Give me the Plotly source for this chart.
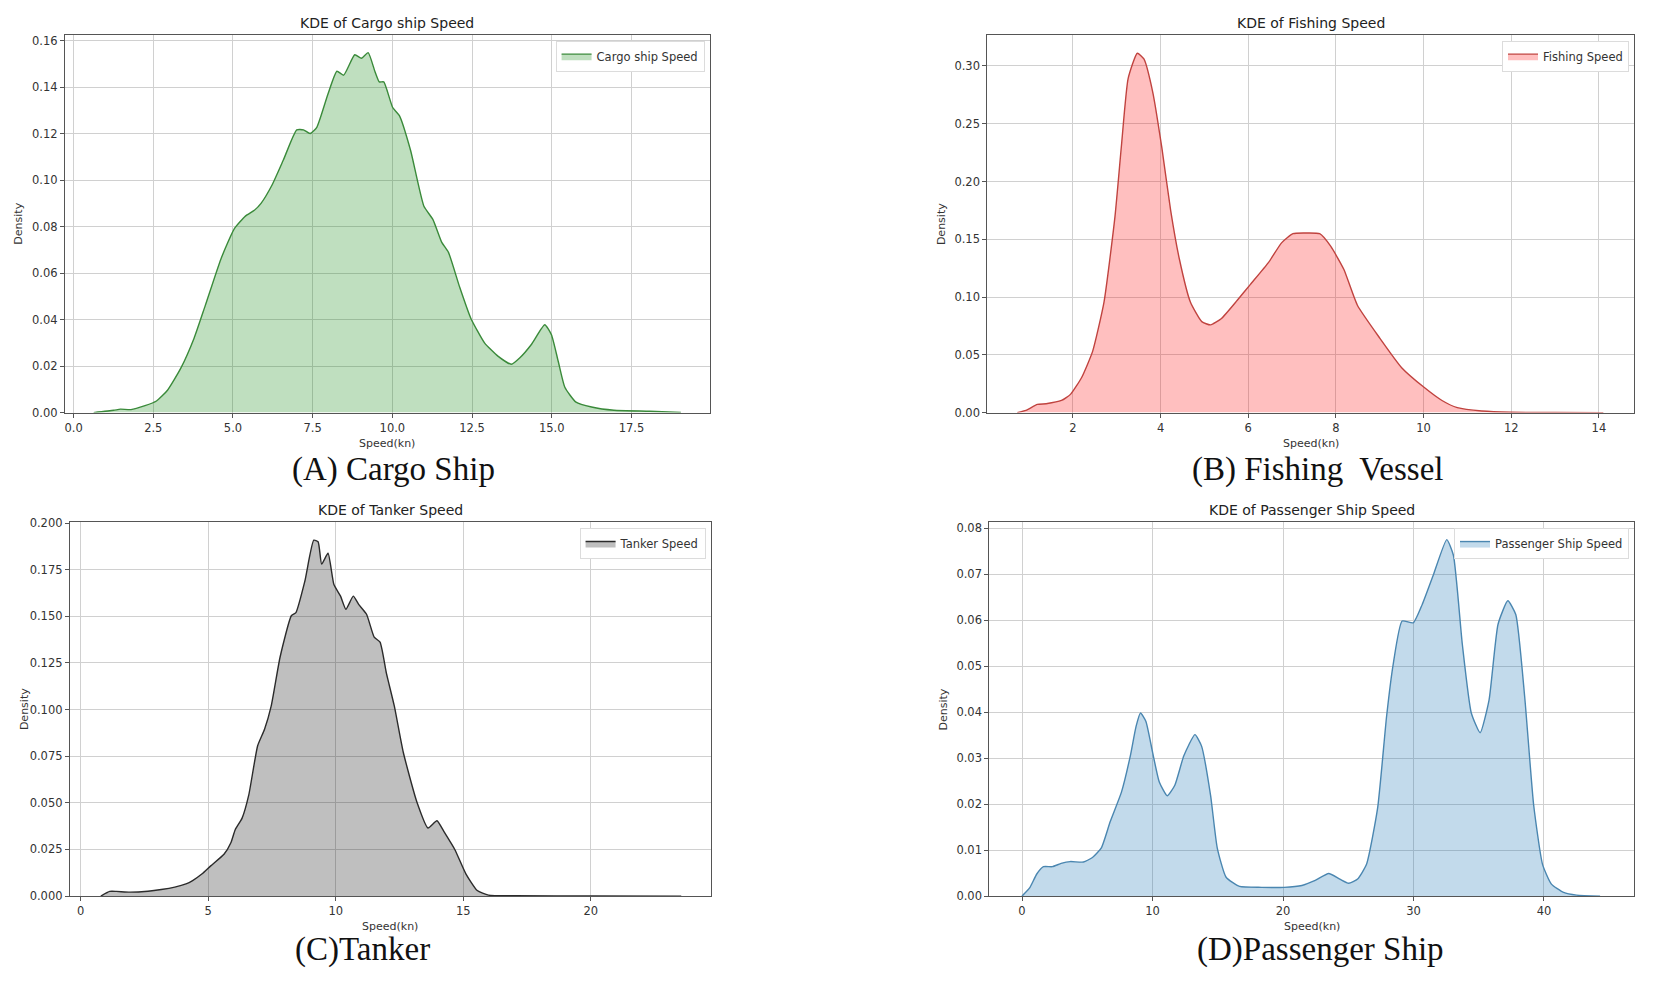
import plotly.graph_objects as go

# KDE curves
cargo_speed = [0.63, 1.26, 1.47, 1.8, 2.24, 2.6, 2.94, 3.36, 3.78, 4.13, 4.62, 5.04, 5.39, 5.67, 5.88,
               6.23, 6.58, 7.0, 7.21, 7.42, 7.63, 7.98, 8.26, 8.47, 8.82, 9.03, 9.24, 9.45, 9.59, 9.73,
               10.01, 10.22, 10.57, 10.99, 11.27, 11.55, 11.76, 12.11, 12.46, 12.89, 13.31, 13.73, 14.0,
               14.36, 14.78, 14.99, 15.2, 15.41, 15.76, 16.25, 16.95, 18.07, 19.05]
cargo_density = [0.0, 0.001, 0.0015, 0.0013, 0.003, 0.005, 0.0095, 0.019, 0.032, 0.046, 0.066, 0.079,
                 0.0845, 0.087, 0.090, 0.098, 0.1086, 0.1216, 0.1216, 0.120, 0.1227, 0.137, 0.1468,
                 0.1451, 0.1539, 0.1524, 0.1548, 0.1468, 0.1422, 0.1422, 0.1312, 0.1277, 0.1128, 0.0887,
                 0.0831, 0.0732, 0.0689, 0.054, 0.0406, 0.030, 0.0243, 0.0208, 0.0236, 0.0293, 0.0378,
                 0.0335, 0.0222, 0.0109, 0.0045, 0.0024, 0.001, 0.0006, 0.0001]

fishing_speed = [0.73, 0.93, 1.19, 1.39, 1.74, 1.95, 2.2, 2.45, 2.71, 2.96, 3.11, 3.26, 3.47, 3.62, 3.82,
                 4.03, 4.23, 4.43, 4.68, 4.94, 5.14, 5.39, 5.75, 6.05, 6.46, 6.76, 7.02, 7.27, 7.63, 7.88,
                 8.18, 8.49, 9.0, 9.5, 10.01, 10.42, 10.77, 11.33, 12.0, 13.0, 14.1]
fishing_density = [0.0, 0.002, 0.0071, 0.0077, 0.0105, 0.016, 0.0304, 0.053, 0.0957, 0.1696, 0.232, 0.289,
                   0.311, 0.306, 0.2776, 0.229, 0.175, 0.1327, 0.0957, 0.0787, 0.0759, 0.0815, 0.0972,
                   0.111, 0.1298, 0.1469, 0.1548, 0.1554, 0.1548, 0.144, 0.124, 0.0929, 0.0645, 0.0389,
                   0.0219, 0.0105, 0.0043, 0.0014, 0.0003, 0.0001, 0.0]

tanker_speed = [0.79, 1.14, 1.4, 1.93, 2.64, 3.16, 3.69, 4.13, 4.39, 4.75, 5.1, 5.62, 5.89, 6.06, 6.33,
                6.59, 6.94, 7.21, 7.47, 7.82, 8.26, 8.44, 8.79, 9.14, 9.31, 9.45, 9.7, 9.93, 10.19, 10.4,
                10.69, 10.9, 11.21, 11.51, 11.74, 11.99, 12.3, 12.65, 13.18, 13.62, 13.97, 14.24, 14.67,
                15.11, 15.55, 15.99, 17.05, 20.0, 23.55]
tanker_density = [0.0, 0.0025, 0.0025, 0.0021, 0.0026, 0.0035, 0.0048, 0.0065, 0.0083, 0.0118, 0.0162,
                  0.0224, 0.0286, 0.0356, 0.0418, 0.0541, 0.0806, 0.0894, 0.1018, 0.1282, 0.1503, 0.152,
                  0.1688, 0.1908, 0.19, 0.178, 0.1838, 0.167, 0.1608, 0.1538, 0.1608, 0.1564, 0.1511,
                  0.1388, 0.1362, 0.1194, 0.1018, 0.0771, 0.0506, 0.0365, 0.0404, 0.0347, 0.025, 0.0118,
                  0.003, 0.0005, 0.0002, 0.0001, 0.0]

passenger_speed = [0.0, 0.61, 1.13, 1.64, 2.32, 3.0, 3.69, 4.71, 5.4, 6.08, 6.76, 7.62, 8.3, 8.74, 9.08,
                   9.49, 10.01, 10.52, 11.13, 11.71, 12.4, 13.25, 13.76, 14.45, 14.96, 15.64, 16.67, 18.37,
                   20.08, 21.45, 22.47, 23.5, 24.35, 25.03, 25.72, 26.4, 27.25, 27.94, 28.45, 29.13, 29.98,
                   30.67, 31.52, 32.55, 33.06, 33.74, 34.43, 35.11, 35.79, 36.48, 37.23, 37.84, 38.52,
                   39.21, 39.89, 40.57, 41.5, 42.5, 44.3]
passenger_density = [0.0, 0.0019, 0.0048, 0.0064, 0.0064, 0.0071, 0.0075, 0.0074, 0.0084, 0.0105, 0.0162,
                     0.0226, 0.0305, 0.0369, 0.0398, 0.038, 0.0312, 0.0248, 0.0218, 0.0241, 0.0305, 0.0351,
                     0.0326, 0.0219, 0.0105, 0.0041, 0.0021, 0.0019, 0.0019, 0.0023, 0.0034, 0.0049, 0.0037,
                     0.0028, 0.0037, 0.0069, 0.0191, 0.0391, 0.0505, 0.0598, 0.0594, 0.0634, 0.0698, 0.0775,
                     0.0741, 0.0548, 0.0398, 0.0355, 0.0426, 0.0591, 0.0642, 0.0612, 0.0434, 0.0198, 0.0069,
                     0.0026, 0.0008, 0.0002, 0.0]

# page is 1654x991, the html body keeps an 8px margin round the figure
PAGE_W, PAGE_H, OFF = 1654, 991, 8
W, H = PAGE_W - 2 * OFF, PAGE_H - 2 * OFF

# pixel boxes (page coords) of each plot area: left, right, top, bottom
panels = [
    dict(x=cargo_speed, y=cargo_density, name='Cargo ship Speed', title='KDE of Cargo ship Speed',
         caption='(A) Cargo Ship', box=(64, 709, 29, 412), xr=[-0.27, 19.95], yr=[0, 0.1625],
         dx=2.5, dy=0.02, xf='.1f', yf='.2f', line='#3a8a3a', fill='rgba(0,128,0,0.25)',
         cap=(393, 470)),
    dict(x=fishing_speed, y=fishing_density, name='Fishing Speed', title='KDE of Fishing Speed',
         caption='(B) Fishing  Vessel', box=(987, 1634, 29, 412), xr=[0.05, 14.8], yr=[0, 0.327],
         dx=2, dy=0.05, xf='d', yf='.2f', line='#c0433f', fill='rgba(255,0,0,0.25)',
         cap=(1318, 470)),
    dict(x=tanker_speed, y=tanker_density, name='Tanker Speed', title='KDE of Tanker Speed',
         caption='(C)Tanker', box=(69, 710, 523, 902), xr=[-0.42, 24.7], yr=[0, 0.2005],
         dx=5, dy=0.025, xf='d', yf='.3f', line='#2b2b2b', fill='rgba(0,0,0,0.25)',
         cap=(362, 956)),
    dict(x=passenger_speed, y=passenger_density, name='Passenger Ship Speed',
         title='KDE of Passenger Ship Speed', caption='(D)Passenger Ship', box=(989, 1634, 523, 902),
         xr=[-2.5, 46.9], yr=[0, 0.0813], dx=10, dy=0.01, xf='d', yf='.2f', line='#4a86b0',
         fill='rgba(31,119,180,0.27)', cap=(1320, 956)),
]

def px(v):
    return (v - OFF) / W

def py(v):
    return 1 - (v - OFF) / H

fig = go.Figure()
annotations = []
axis_font = dict(family='DejaVu Sans', size=11.5, color='#333')

for i, p in enumerate(panels, start=1):
    sfx = '' if i == 1 else str(i)
    left, right, top, bottom = p['box']
    fig.add_trace(go.Scatter(
        x=p['x'], y=p['y'], mode='lines', name=p['name'],
        line=dict(color=p['line'], width=1.4, shape='spline', smoothing=0.5),
        fill='tozeroy', fillcolor=p['fill'],
        xaxis='x' + sfx, yaxis='y' + sfx, legend='legend' + sfx,
    ))
    common = dict(showgrid=True, gridcolor='#d0d0d0', gridwidth=1, showline=True, mirror=True,
                  linecolor='#555', linewidth=1.2, ticks='outside', ticklen=4, tickcolor='#555',
                  tickfont=axis_font, zeroline=False)
    fig.layout['xaxis' + sfx] = dict(domain=[px(left), px(right)], range=p['xr'], dtick=p['dx'],
                                     tick0=0, tickformat=p['xf'], anchor='y' + sfx, **common)
    fig.layout['yaxis' + sfx] = dict(domain=[py(bottom), py(top)], range=p['yr'], dtick=p['dy'],
                                     tick0=0, tickformat=p['yf'], anchor='x' + sfx, **common)
    fig.layout['legend' + sfx] = dict(x=px(right - 5), y=py(top + 6), xanchor='right', yanchor='top',
                                      bgcolor='white', bordercolor='#dcdcdc', borderwidth=1,
                                      font=dict(family='DejaVu Sans', size=11.5, color='#333'))
    cx = px((left + right) / 2)
    annotations += [
        dict(text=p['title'], x=cx, y=py(top - 12), xref='paper', yref='paper', xanchor='center',
             yanchor='middle', showarrow=False, font=dict(family='DejaVu Sans', size=14, color='#222')),
        dict(text='Speed(kn)', x=cx, y=py(bottom + 31), xref='paper', yref='paper', xanchor='center',
             yanchor='middle', showarrow=False, font=dict(family='DejaVu Sans', size=11, color='#333')),
        dict(text='Density', x=px(left - 46), y=py((top + bottom) / 2), xref='paper', yref='paper',
             xanchor='center', yanchor='middle', textangle=-90, showarrow=False,
             font=dict(family='DejaVu Sans', size=11, color='#333')),
        dict(text=p['caption'], x=px(p['cap'][0]), y=py(p['cap'][1]), xref='paper', yref='paper',
             xanchor='center', yanchor='middle', showarrow=False,
             font=dict(family='Liberation Serif, Times New Roman, serif', size=33, color='#111')),
    ]

fig.update_layout(
    width=W, height=H,
    margin=dict(l=0, r=0, t=0, b=0),
    paper_bgcolor='white', plot_bgcolor='white',
    showlegend=True,
    annotations=annotations,
)

fig.write_html("out.html")
